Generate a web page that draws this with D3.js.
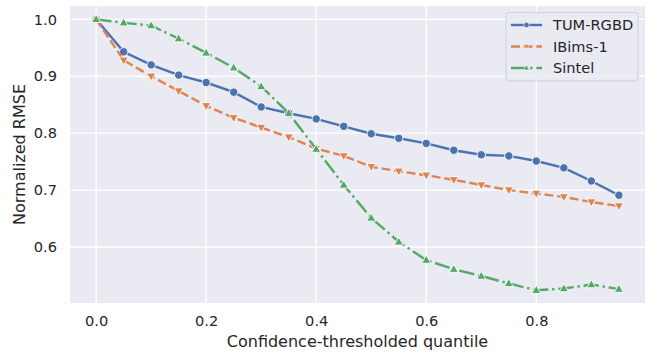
<!DOCTYPE html>
<html>
<head>
<meta charset="utf-8">
<script src="https://cdn.jsdelivr.net/npm/d3@7"></script>
<style>
  body { margin: 0; background: #fff; }
  text { font-family: "DejaVu Sans", sans-serif; fill: #262626; }
</style>
</head>
<body>
<script>
// DATA

const quantiles = [0, 0.05, 0.1, 0.15, 0.2, 0.25, 0.3, 0.35, 0.4, 0.45, 0.5, 0.55, 0.6, 0.65, 0.7, 0.75, 0.8, 0.85, 0.9, 0.95];
const tumRgbd = [1.0, 0.943, 0.920, 0.902, 0.889, 0.872, 0.846, 0.835, 0.825, 0.812, 0.799, 0.791, 0.782, 0.770, 0.762, 0.760, 0.751, 0.739, 0.716, 0.691];
const ibims = [1.0, 0.928, 0.900, 0.874, 0.848, 0.827, 0.810, 0.793, 0.773, 0.760, 0.741, 0.733, 0.726, 0.718, 0.709, 0.700, 0.694, 0.688, 0.679, 0.672];
const sintel = [1.0, 0.994, 0.989, 0.966, 0.941, 0.915, 0.882, 0.835, 0.772, 0.709, 0.651, 0.609, 0.577, 0.561, 0.549, 0.536, 0.524, 0.527, 0.534, 0.526];
const seriesNames = ["TUM-RGBD", "IBims-1", "Sintel"];
const xTicks = [0, 0.2, 0.4, 0.6, 0.8];
const yTicks = [0.6, 0.7, 0.8, 0.9, 1.0];

// MAKE THE CHART

const W = 651, H = 352;
const padL = 70, padR = 645, padT = 6, padB = 303;

const series = [
  { name: seriesNames[0], values: tumRgbd, color: "#4C72B0", dash: null, marker: "circle" },
  { name: seriesNames[1], values: ibims, color: "#DD8452", dash: "8.9,3.8", marker: "down" },
  { name: seriesNames[2], values: sintel, color: "#55A868", dash: "15.4,3.8,2.4,3.8", marker: "up" }
];

const svg = d3.select("body").append("svg")
  .attr("width", W)
  .attr("height", H);

const xScale = d3.scaleLinear().domain([-0.0475, 0.9975]).range([padL, padR]);
const yScale = d3.scaleLinear().domain([0.5016, 1.0234]).range([padB, padT]);

svg.append("rect")
  .attr("x", padL).attr("y", padT)
  .attr("width", padR - padL).attr("height", padB - padT)
  .attr("fill", "#EAEAF2");

// grid
svg.append("g").selectAll("line")
  .data(xTicks).enter().append("line")
  .attr("x1", d => xScale(d)).attr("x2", d => xScale(d))
  .attr("y1", padT).attr("y2", padB)
  .attr("stroke", "#fff").attr("stroke-width", 1.3);

svg.append("g").selectAll("line")
  .data(yTicks).enter().append("line")
  .attr("y1", d => yScale(d)).attr("y2", d => yScale(d))
  .attr("x1", padL).attr("x2", padR)
  .attr("stroke", "#fff").attr("stroke-width", 1.3);

// axes (labels only)
const xAxis = d3.axisBottom(xScale).tickValues(xTicks).tickFormat(d3.format(".1f")).tickSize(0).tickPadding(13);
const yAxis = d3.axisLeft(yScale).tickValues(yTicks).tickFormat(d3.format(".1f")).tickSize(0).tickPadding(13);

const gx = svg.append("g").attr("transform", `translate(0,${padB})`).call(xAxis);
const gy = svg.append("g").attr("transform", `translate(${padL},0)`).call(yAxis);
[gx, gy].forEach(g => {
  g.select(".domain").remove();
  g.selectAll("text").style("font-size", "14.6px").style("font-family", "DejaVu Sans").attr("fill", "#262626");
});

svg.append("text")
  .text("Confidence-thresholded quantile")
  .attr("x", (padL + padR) / 2)
  .attr("y", 347)
  .attr("text-anchor", "middle")
  .style("font-size", "16px");

svg.append("text")
  .text("Normalized RMSE")
  .attr("transform", `translate(25,${(padT + padB) / 2}) rotate(-90)`)
  .attr("text-anchor", "middle")
  .style("font-size", "16px");

const line = d3.line()
  .x((d, i) => xScale(quantiles[i]))
  .y(d => yScale(d));

function markerPath(type, k) {
  if (type === "circle") return d3.symbol(d3.symbolCircle, 55 * k * k)();
  if (type === "down") return `M${-4.6 * k},${-3.2 * k}L${4.6 * k},${-3.2 * k}L0,${4.8 * k}Z`;
  return `M${-4.6 * k},${3.2 * k}L${4.6 * k},${3.2 * k}L0,${-4.8 * k}Z`;
}

series.forEach(s => {
  const g = svg.append("g");
  g.append("path")
    .datum(s.values)
    .attr("d", line)
    .attr("fill", "none")
    .attr("stroke", s.color)
    .attr("stroke-width", 2.4)
    .attr("stroke-dasharray", s.dash);
  g.selectAll("path.mark")
    .data(s.values).enter().append("path")
    .attr("class", "mark")
    .attr("d", markerPath(s.marker, 1))
    .attr("transform", (d, i) => `translate(${xScale(quantiles[i])},${yScale(d)})`)
    .attr("fill", s.color)
    .attr("stroke", "#fff")
    .attr("stroke-width", 0.9);
});

// legend
const legend = svg.append("g").attr("transform", "translate(506,12.5)");
legend.append("rect")
  .attr("width", 132).attr("height", 68.5)
  .attr("rx", 3)
  .attr("fill", "#EAEAF2").attr("fill-opacity", 0.8)
  .attr("stroke", "#d0d0d8");

series.forEach((s, i) => {
  const y = 12.5 + i * 21.5;
  legend.append("line")
    .attr("x1", 5).attr("x2", 36)
    .attr("y1", y).attr("y2", y)
    .attr("stroke", s.color)
    .attr("stroke-width", 2.4)
    .attr("stroke-dasharray", s.dash);
  legend.append("path")
    .attr("d", markerPath(s.marker, 0.65))
    .attr("transform", `translate(20.5,${y})`)
    .attr("fill", s.color)
    .attr("stroke", "#fff")
    .attr("stroke-width", 0.6);
  legend.append("text")
    .text(s.name)
    .attr("x", 47)
    .attr("y", y)
    .attr("dy", "0.36em")
    .style("font-size", "14.6px");
});
</script>
</body>
</html>
